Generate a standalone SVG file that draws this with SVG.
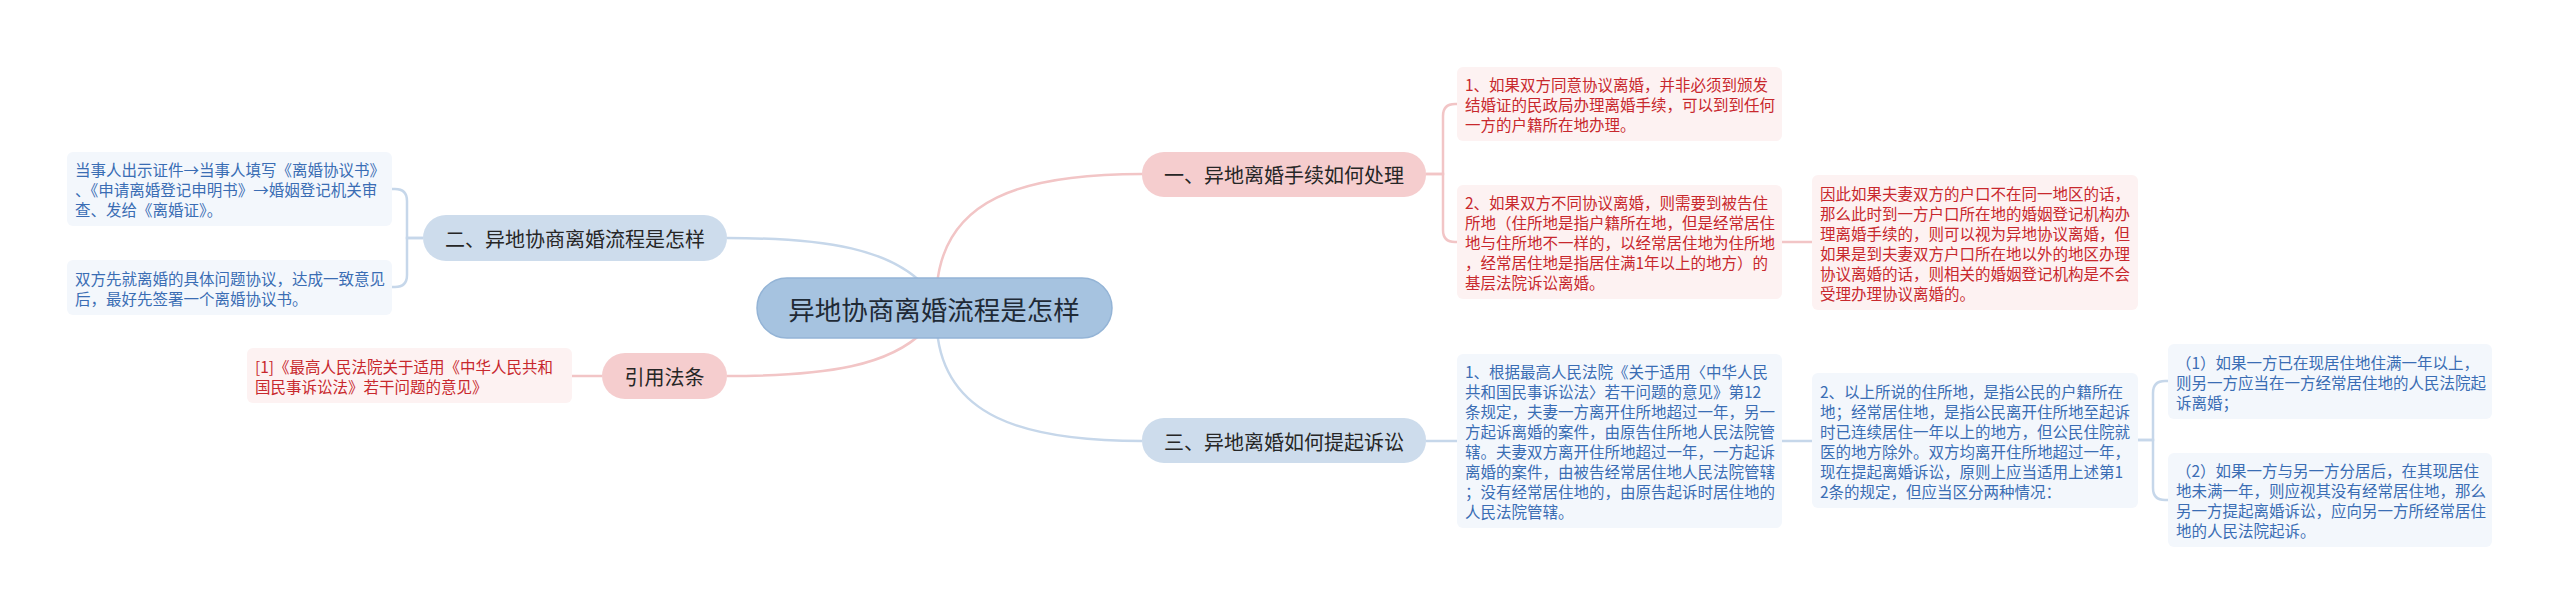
<svg xmlns="http://www.w3.org/2000/svg" width="2560" height="615" viewBox="0 0 2560 615">
<style>
text{font-family:"Noto Sans CJK SC","Noto Sans",sans-serif;dominant-baseline:central}
.pl{fill:none;stroke:#f2c5c6;stroke-width:2.5}
.bl{fill:none;stroke:#c6d7ea;stroke-width:2.5}
.root{fill:#a6c3e0;stroke:#94b4d6;stroke-width:1.5}
.nb{fill:#cddcec}
.np{fill:#f5cdce}
.lb{fill:#f3f7fc}
.lp{fill:#fdf2f2}
.tn{font-size:20px;fill:#262626;text-anchor:middle}
.tr{font-size:26.5px;fill:#1f2a36;text-anchor:middle}
.tb{font-size:15.5px;fill:#3a6db4}
.tp{font-size:15.5px;fill:#c8282d}
</style>
<rect width="2560" height="615" fill="#ffffff"/>
<g id="connectors">
<path class="pl" d="M937,285 C945,200 1020,174 1142,174"/>
<path class="bl" d="M924,285 C890,250 830,238 727,238"/>
<path class="pl" d="M924,331 C890,365 830,376 727,376"/>
<path class="bl" d="M937,331 C945,415 1020,441 1142,441"/>
<path class="bl" d="M423,238 H407 V201 Q407,189 395,189 H392"/>
<path class="bl" d="M423,238 H407 V275 Q407,287 395,287 H392"/>
<path class="pl" d="M1426,174 H1443 V116 Q1443,104 1455,104 H1457"/>
<path class="pl" d="M1426,174 H1443 V230 Q1443,242 1455,242 H1457"/>
<path class="pl" d="M1782,242 H1812"/>
<path class="pl" d="M572,376 H602"/>
<path class="bl" d="M1426,441 H1457"/>
<path class="bl" d="M1782,441 H1812"/>
<path class="bl" d="M2138,440 H2153 V393 Q2153,381 2165,381 H2168"/>
<path class="bl" d="M2138,440 H2153 V488 Q2153,500 2165,500 H2168"/>
</g>
<g id="root">
<rect class="root" x="757" y="278" width="355" height="60" rx="30"/>
<text class="tr" x="934" y="308">异地协商离婚流程是怎样</text>
</g>
<g id="n1">
<rect class="np" x="1142" y="152" width="284" height="45" rx="22"/>
<text class="tn" x="1284" y="174.5">一、异地离婚手续如何处理</text>
</g>
<g id="n2">
<rect class="nb" x="423" y="215" width="304" height="46" rx="23"/>
<text class="tn" x="575" y="238">二、异地协商离婚流程是怎样</text>
</g>
<g id="n3">
<rect class="nb" x="1142" y="418" width="284" height="45" rx="22"/>
<text class="tn" x="1284" y="441">三、异地离婚如何提起诉讼</text>
</g>
<g id="n4">
<rect class="np" x="602" y="353" width="125" height="46" rx="23"/>
<text class="tn" x="664.5" y="376">引用法条</text>
</g>
<g id="leaf-a">
<rect class="lb" x="67" y="152" width="325" height="74" rx="6"/>
<text class="tb" x="75" y="169">当事人出示证件→当事人填写《离婚协议书》</text>
<text class="tb" x="75" y="189">、《申请离婚登记申明书》→婚姻登记机关审</text>
<text class="tb" x="75" y="209">查、发给《离婚证》。</text>
</g>
<g id="leaf-b">
<rect class="lb" x="67" y="260" width="325" height="55" rx="6"/>
<text class="tb" x="75" y="277.5">双方先就离婚的具体问题协议，达成一致意见</text>
<text class="tb" x="75" y="297.5">后，最好先签署一个离婚协议书。</text>
</g>
<g id="leaf-c">
<rect class="lp" x="247" y="348" width="325" height="55" rx="6"/>
<text class="tp" x="255" y="365.5">[1]《最高人民法院关于适用《中华人民共和</text>
<text class="tp" x="255" y="385.5">国民事诉讼法》若干问题的意见》</text>
</g>
<g id="leaf-d">
<rect class="lp" x="1457" y="67" width="325" height="74" rx="6"/>
<text class="tp" x="1465" y="84">1、如果双方同意协议离婚，并非必须到颁发</text>
<text class="tp" x="1465" y="104">结婚证的民政局办理离婚手续，可以到到任何</text>
<text class="tp" x="1465" y="124">一方的户籍所在地办理。</text>
</g>
<g id="leaf-e">
<rect class="lp" x="1457" y="185" width="325" height="114" rx="6"/>
<text class="tp" x="1465" y="202">2、如果双方不同协议离婚，则需要到被告住</text>
<text class="tp" x="1465" y="222">所地（住所地是指户籍所在地，但是经常居住</text>
<text class="tp" x="1465" y="242">地与住所地不一样的，以经常居住地为住所地</text>
<text class="tp" x="1465" y="262">，经常居住地是指居住满1年以上的地方）的</text>
<text class="tp" x="1465" y="282">基层法院诉讼离婚。</text>
</g>
<g id="leaf-f">
<rect class="lp" x="1812" y="175" width="326" height="135" rx="6"/>
<text class="tp" x="1820" y="192.5">因此如果夫妻双方的户口不在同一地区的话，</text>
<text class="tp" x="1820" y="212.5">那么此时到一方户口所在地的婚姻登记机构办</text>
<text class="tp" x="1820" y="232.5">理离婚手续的，则可以视为异地协议离婚，但</text>
<text class="tp" x="1820" y="252.5">如果是到夫妻双方户口所在地以外的地区办理</text>
<text class="tp" x="1820" y="272.5">协议离婚的话，则相关的婚姻登记机构是不会</text>
<text class="tp" x="1820" y="292.5">受理办理协议离婚的。</text>
</g>
<g id="leaf-g">
<rect class="lb" x="1457" y="354" width="325" height="174" rx="6"/>
<text class="tb" x="1465" y="371">1、根据最高人民法院《关于适用〈中华人民</text>
<text class="tb" x="1465" y="391">共和国民事诉讼法〉若干问题的意见》第12</text>
<text class="tb" x="1465" y="411">条规定，夫妻一方离开住所地超过一年，另一</text>
<text class="tb" x="1465" y="431">方起诉离婚的案件，由原告住所地人民法院管</text>
<text class="tb" x="1465" y="451">辖。夫妻双方离开住所地超过一年，一方起诉</text>
<text class="tb" x="1465" y="471">离婚的案件，由被告经常居住地人民法院管辖</text>
<text class="tb" x="1465" y="491">；没有经常居住地的，由原告起诉时居住地的</text>
<text class="tb" x="1465" y="511">人民法院管辖。</text>
</g>
<g id="leaf-h">
<rect class="lb" x="1812" y="373" width="326" height="135" rx="6"/>
<text class="tb" x="1820" y="390.5">2、以上所说的住所地，是指公民的户籍所在</text>
<text class="tb" x="1820" y="410.5">地；经常居住地，是指公民离开住所地至起诉</text>
<text class="tb" x="1820" y="430.5">时已连续居住一年以上的地方，但公民住院就</text>
<text class="tb" x="1820" y="450.5">医的地方除外。双方均离开住所地超过一年，</text>
<text class="tb" x="1820" y="470.5">现在提起离婚诉讼，原则上应当适用上述第1</text>
<text class="tb" x="1820" y="490.5">2条的规定，但应当区分两种情况：</text>
</g>
<g id="leaf-i">
<rect class="lb" x="2168" y="344" width="324" height="75" rx="6"/>
<text class="tb" x="2176" y="361.5">（1）如果一方已在现居住地住满一年以上，</text>
<text class="tb" x="2176" y="381.5">则另一方应当在一方经常居住地的人民法院起</text>
<text class="tb" x="2176" y="401.5">诉离婚；</text>
</g>
<g id="leaf-j">
<rect class="lb" x="2168" y="453" width="324" height="94" rx="6"/>
<text class="tb" x="2176" y="470">（2）如果一方与另一方分居后，在其现居住</text>
<text class="tb" x="2176" y="490">地未满一年，则应视其没有经常居住地，那么</text>
<text class="tb" x="2176" y="510">另一方提起离婚诉讼，应向另一方所经常居住</text>
<text class="tb" x="2176" y="530">地的人民法院起诉。</text>
</g>
</svg>
